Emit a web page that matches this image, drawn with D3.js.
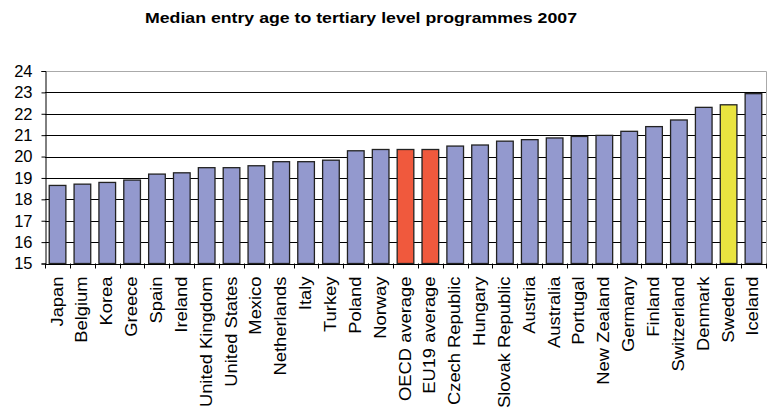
<!DOCTYPE html>
<html><head><meta charset="utf-8">
<script src="https://cdn.jsdelivr.net/npm/d3@7"></script>
<style>body{margin:0;background:#fff}svg{display:block}text{font-family:"Liberation Sans",Arial,sans-serif}</style>
</head><body>
<svg id="c" width="767" height="408"></svg>
<script>
const categories = ["Japan","Belgium","Korea","Greece","Spain","Ireland","United Kingdom","United States","Mexico","Netherlands","Italy","Turkey","Poland","Norway","OECD average","EU19 average","Czech Republic","Hungary","Slovak Republic","Austria","Australia","Portugal","New Zealand","Germany","Finland","Switzerland","Denmark","Sweden","Iceland"];
const values = [18.65,18.71,18.79,18.9,19.18,19.24,19.48,19.48,19.57,19.76,19.76,19.83,20.27,20.33,20.33,20.33,20.49,20.54,20.72,20.79,20.87,20.94,20.99,21.18,21.4,21.71,22.3,22.42,22.94];
const highlights = {"OECD average":"avg","EU19 average":"avg","Sweden":"own"};
const yTicks = [15,16,17,18,19,20,21,22,23,24];
const title = "Median entry age to tertiary level programmes 2007";

const FONT = "'Liberation Sans', Arial, sans-serif";
const colors = {base:"#9399CE", avg:"#F0593D", own:"#E9E440"};
const svg = d3.select("#c");
const m = {l:45, r:766, t:71, b:263.5};
const x = d3.scaleBand().domain(categories).range([m.l, m.r]).paddingInner(0.33).paddingOuter(0.17);
const y = d3.scaleLinear().domain([15,24]).range([m.b, m.t]);

svg.append("text").attr("x",361).attr("y",23).attr("text-anchor","middle")
  .attr("font-size",15.5).attr("font-weight","bold").style("font-family",FONT)
  .attr("textLength",432).attr("lengthAdjust","spacingAndGlyphs").text(title);

// gridlines
svg.append("g").selectAll("line").data(yTicks.filter(d=>d>15&&d<24)).join("line")
  .attr("x1",m.l).attr("x2",m.r).attr("y1",d=>Math.round(y(d))+0.5).attr("y2",d=>Math.round(y(d))+0.5)
  .attr("stroke","#000").attr("stroke-width",1);
// plot border top/right gray
svg.append("path").attr("d",`M${m.l},${Math.round(m.t)+0.5}H${m.r+0.5}V${m.b}`).attr("fill","none").attr("stroke","#aaa");

// bars
svg.append("g").selectAll("rect").data(categories).join("rect")
  .attr("x",d=>x(d)).attr("width",x.bandwidth())
  .attr("y",(d,i)=>y(values[i])).attr("height",(d,i)=>y(15)-y(values[i]))
  .attr("fill",d=>colors[highlights[d]||"base"]).attr("stroke","#222").attr("stroke-width",1.3);

// y axis
const ya = d3.axisLeft(y).tickValues(yTicks).tickSize(4).tickPadding(9).tickFormat(d3.format("d"));
const gy = svg.append("g").attr("transform",`translate(${m.l+0.5},0)`).call(ya);
gy.select(".domain").attr("stroke","#000");
gy.selectAll("text").attr("font-size",16.5).attr("fill","#000").style("font-family",FONT);

// x axis
const step = x.step();
const bounds = d3.range(categories.length+1).map(i=>m.l + i*step);
const gx = svg.append("g");
gx.append("line").attr("x1",m.l).attr("x2",m.r+0.5).attr("y1",Math.round(m.b)+0.5).attr("y2",Math.round(m.b)+0.5).attr("stroke","#000");
gx.selectAll("line.t").data(bounds).join("line").attr("class","t")
  .attr("x1",d=>Math.round(d)+0.5).attr("x2",d=>Math.round(d)+0.5).attr("y1",m.b).attr("y2",m.b+5).attr("stroke","#000");
gx.selectAll("text").data(categories).join("text")
  .attr("transform",d=>`translate(${x(d)+x.bandwidth()/2+5},${m.b+13}) rotate(-90) scale(1.08,1)`)
  .attr("text-anchor","end").attr("font-size",17).style("font-family",FONT).text(d=>d);
</script>
</body></html>
